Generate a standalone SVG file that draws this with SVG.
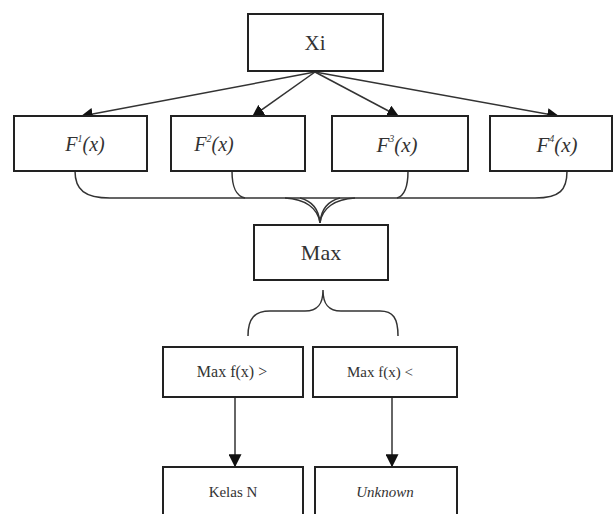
<svg xmlns="http://www.w3.org/2000/svg" width="615" height="514" viewBox="0 0 615 514">
<style>
.box{fill:#fff;stroke:#222;stroke-width:2}
.t{font-family:"Liberation Serif","Times New Roman",serif;fill:#333;text-anchor:middle}
.i{font-style:italic}
.c{fill:none;stroke:#333;stroke-width:1.5}
</style>
<defs>
<marker id="ah" viewBox="0 0 10 10" refX="9" refY="5" markerWidth="12" markerHeight="12" markerUnits="userSpaceOnUse" orient="auto">
<path d="M0,0 L10,5 L0,10 z" fill="#111"/>
</marker>
<marker id="ah2" viewBox="0 0 10 10" refX="9" refY="5" markerWidth="13" markerHeight="13" markerUnits="userSpaceOnUse" orient="auto">
<path d="M0,0 L10,5 L0,10 z" fill="#111"/>
</marker>
</defs>
<rect width="615" height="514" fill="#fff"/>
<g id="connectors">
<line class="c" x1="315" y1="72" x2="82" y2="116" marker-end="url(#ah)"/>
<line class="c" x1="315" y1="72" x2="253" y2="116" marker-end="url(#ah)"/>
<line class="c" x1="315" y1="72" x2="398" y2="116" marker-end="url(#ah)"/>
<line class="c" x1="315" y1="72" x2="558" y2="116" marker-end="url(#ah)"/>
<path class="c" d="M75,171 C75,190 85,198 110,198 L535,198 C560,198 567,190 567,171"/>
<path class="c" d="M232,171 C232,188 236,196 245,198"/>
<path class="c" d="M408,171 C408,188 404,196 397,198"/>
<path class="c" d="M285,198 C305,199 318,208 320,223 M355,198 C335,199 322,208 320,223"/>
<path class="c" d="M300,198 C312,201 319,210 320,223 M340,198 C328,201 321,210 320,223"/>
<path class="c" d="M248,336 C248,318 255,311 270,311 L305,311 C318,311 323,304 323,290 C323,304 328,311 341,311 L380,311 C393,311 398,318 398,336"/>
<line class="c" x1="235" y1="397" x2="235" y2="466" marker-end="url(#ah2)"/>
<line class="c" x1="392" y1="397" x2="392" y2="466" marker-end="url(#ah2)"/>
</g>
<g id="xi"><rect class="box" x="248" y="14" width="135" height="57"/><text class="t" x="315" y="50" font-size="21">Xi</text></g>
<g id="f1"><rect class="box" x="14" y="116" width="133" height="55"/><text class="t i" x="85" y="151" font-size="20">F<tspan font-size="10" dy="-9">1</tspan><tspan dy="9">(x)</tspan></text></g>
<g id="f2"><rect class="box" x="171" y="116" width="134" height="55"/><text class="t i" x="214" y="151" font-size="20">F<tspan font-size="10" dy="-9">2</tspan><tspan dy="9">(x)</tspan></text></g>
<g id="f3"><rect class="box" x="332" y="116" width="136" height="55"/><text class="t i" x="397" y="152" font-size="21">F<tspan font-size="10" dy="-10">3</tspan><tspan dy="10">(x)</tspan></text></g>
<g id="f4"><rect class="box" x="490" y="116" width="122" height="55"/><text class="t i" x="557" y="152" font-size="21">F<tspan font-size="10" dy="-10">4</tspan><tspan dy="10">(x)</tspan></text></g>
<g id="max"><rect class="box" x="254" y="225" width="134" height="55"/><text class="t" x="321" y="260" font-size="22">Max</text></g>
<g id="maxgt"><rect class="box" x="163" y="347" width="140" height="50"/><text class="t" x="232" y="377" font-size="16">Max f(x) &gt;</text></g>
<g id="maxlt"><rect class="box" x="313" y="347" width="144" height="50"/><text class="t" x="380" y="377" font-size="15">Max f(x) &lt;</text></g>
<g id="kelas"><rect class="box" x="163" y="467" width="140" height="60"/><text class="t" x="233" y="497" font-size="15">Kelas N</text></g>
<g id="unknown"><rect class="box" x="315" y="467" width="142" height="60"/><text class="t i" x="385" y="497" font-size="15">Unknown</text></g>
</svg>
